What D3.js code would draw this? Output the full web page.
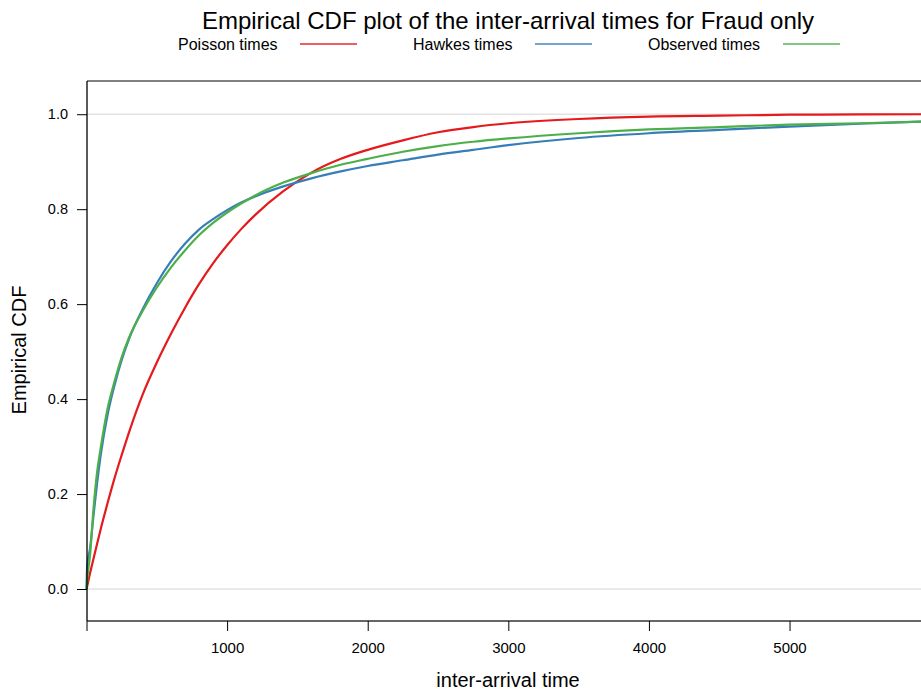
<!DOCTYPE html>
<html>
<head>
<meta charset="utf-8">
<script src="https://cdn.jsdelivr.net/npm/d3@7"></script>
<style>
  body { margin: 0; background: #fff; }
  text { font-family: "Liberation Sans", Arial, Helvetica, sans-serif; fill: #000; }
</style>
</head>
<body>
<div id="chart"></div>
<script>
// inter-arrival times where the ECDFs were read
const times = [0, 5, 25, 50, 75, 100, 150, 200, 250, 300, 400, 500, 600, 700, 800, 900, 1000, 1100, 1200,
               1400, 1600, 1800, 2000, 2250, 2500, 2750, 3000, 3500, 4000, 4500, 5000, 5500, 6000];

const poisson = [0, 0.006, 0.033, 0.064, 0.095, 0.125, 0.181, 0.234, 0.282, 0.328, 0.41, 0.477, 0.537, 0.592, 0.642, 0.686, 0.724, 0.758, 0.788,
                 0.838, 0.877, 0.905, 0.925, 0.945, 0.962, 0.973, 0.981, 0.99, 0.995, 0.997, 0.999, 0.9995, 1.0];
const hawkes = [0, 0.05, 0.085, 0.155, 0.222, 0.28, 0.367, 0.43, 0.482, 0.525, 0.59, 0.644, 0.69, 0.727, 0.757, 0.779, 0.798, 0.814, 0.827,
                0.848, 0.865, 0.879, 0.891, 0.903, 0.915, 0.925, 0.935, 0.95, 0.96, 0.967, 0.974, 0.98, 0.985];
const observed = [0, 0.02, 0.07, 0.17, 0.245, 0.295, 0.38, 0.438, 0.488, 0.528, 0.586, 0.635, 0.677, 0.713, 0.745, 0.771, 0.793, 0.812, 0.829,
                  0.856, 0.876, 0.893, 0.906, 0.921, 0.933, 0.942, 0.949, 0.96, 0.968, 0.973, 0.978, 0.981, 0.985];

const seriesNames = ['Poisson times', 'Hawkes times', 'Observed times'];
const seriesColors = ['#e41a1c', '#377eb8', '#4daf4a'];
const xTicks = [1000, 2000, 3000, 4000, 5000];
const yTicks = [0, 0.2, 0.4, 0.6, 0.8, 1.0];

const width = 921, height = 692;
const plotLeft = 87, plotTop = 81, plotBottom = 621;

const svg = d3.select('#chart').append('svg')
    .attr('width', width).attr('height', height);

const x = d3.scaleLinear().domain([0, 5935]).range([86.5, 921]);
const y = d3.scaleLinear().domain([-0.0674, 1.07]).range([plotBottom, plotTop]);

// grid lines at 0 and 1
svg.append('g').selectAll('line')
    .data([0, 1])
    .join('line')
    .attr('x1', plotLeft).attr('x2', width)
    .attr('y1', d => y(d)).attr('y2', d => y(d))
    .attr('stroke', '#e3e3e3').attr('stroke-width', 1.5);

// curves
const line = d3.line().x(d => x(d[0])).y(d => y(d[1])).curve(d3.curveMonotoneX);
[poisson, hawkes, observed].forEach((vals, i) => {
    svg.append('path')
        .datum(times.map((t, j) => [t, vals[j]]))
        .attr('fill', 'none')
        .attr('stroke', seriesColors[i])
        .attr('stroke-width', 2.2)
        .attr('stroke-linejoin', 'round')
        .attr('d', line);
});

// frame
svg.append('line').attr('x1', plotLeft).attr('x2', width).attr('y1', plotTop).attr('y2', plotTop)
    .attr('stroke', '#000').attr('stroke-width', 1);

// axes
const xAxis = svg.append('g')
    .attr('transform', `translate(0,${plotBottom})`)
    .call(d3.axisBottom(x).tickValues([0, ...xTicks]).tickSize(10).tickPadding(11)
        .tickFormat(d => d === 0 ? '' : d));
xAxis.select('.domain').attr('d', `M${plotLeft},0H${width}`).attr('stroke', '#333').attr('stroke-width', 1.3);
xAxis.selectAll('.tick line').attr('stroke', '#000');
xAxis.selectAll('text').style('font-size', '15px');

const yAxis = svg.append('g')
    .attr('transform', `translate(${plotLeft},0)`)
    .call(d3.axisLeft(y).tickValues(yTicks).tickSize(10).tickPadding(9)
        .tickFormat(d3.format('.1f')));
yAxis.select('.domain').attr('d', `M0,${plotTop}V${plotBottom}`).attr('stroke', '#000').attr('stroke-width', 1.3);
yAxis.selectAll('.tick line').attr('stroke', '#000');
yAxis.selectAll('text').style('font-size', '14.5px');

// titles
svg.append('text')
    .attr('x', 508).attr('y', 29)
    .attr('text-anchor', 'middle')
    .style('font-size', '24px')
    .text('Empirical CDF plot of the inter-arrival times for Fraud only');

svg.append('text')
    .attr('x', 508).attr('y', 687)
    .attr('text-anchor', 'middle')
    .style('font-size', '20px')
    .text('inter-arrival time');

svg.append('text')
    .attr('transform', 'translate(26,350) rotate(-90)')
    .attr('text-anchor', 'middle')
    .style('font-size', '20px')
    .text('Empirical CDF');

// legend
const legend = svg.append('g').selectAll('g')
    .data(seriesNames)
    .join('g')
    .attr('transform', (d, i) => `translate(${178 + i * 235},0)`);
legend.append('text')
    .attr('x', 0).attr('y', 50)
    .style('font-size', '16px')
    .text(d => d);
legend.append('line')
    .attr('x1', (d, i) => [122, 122, 135][i]).attr('x2', (d, i) => [179, 179, 192][i])
    .attr('y1', 44).attr('y2', 44)
    .attr('stroke', (d, i) => seriesColors[i]).attr('stroke-opacity', 0.7)
    .attr('stroke-width', 1.8);
</script>
</body>
</html>
